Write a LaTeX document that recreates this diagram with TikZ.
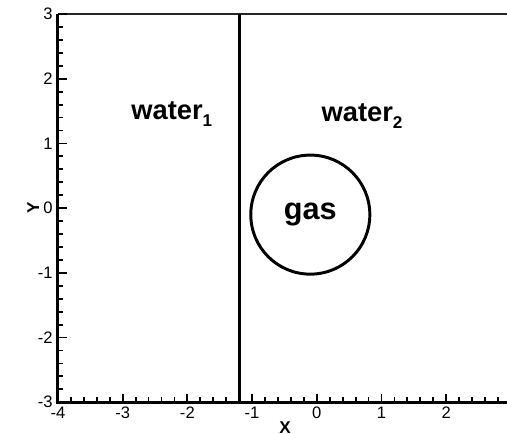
\documentclass[tikz,border=0pt]{standalone}
\usepackage{fontspec}
\setmainfont{Liberation Sans}
\usetikzlibrary{positioning}

\begin{document}
\begin{tikzpicture}[x=1cm, y=1cm]

% Define styles
\tikzstyle{axis} = [line width=1.3pt, black]
\tikzstyle{tick} = [line width=0.8pt, black]
\tikzstyle{ticklabel} = [inner sep=0pt, font=\fontsize{7.3}{8}\selectfont]
\tikzstyle{region} = [inner sep=0pt, font=\fontsize{12}{14}\selectfont\bfseries]

% Frame of the picture
\useasboundingbox (-4.896,-3.486) rectangle (2.94,3.217);

% Axes
\draw[axis] (-4,3) -- (-4,-3) -- (2.94,-3);
\draw[line width=0.9pt, black!85] (-4,3) -- (2.94,3);

% Ticks on X
\foreach \i in {-4,...,2} {
  \draw[tick] (\i,-3) -- ++(0,0.13);
  \foreach \j in {0.2,0.4,0.6,0.8} {
    \draw[tick] (\i+\j,-3) -- ++(0,0.075);
  }
  \node[ticklabel] (xt\i) at (\i,-3.155) {\i};
}

% Ticks on Y
\foreach \i in {-3,...,3} {
  \draw[tick] (-4,\i) -- ++(0.14,0);
  \node[ticklabel, anchor=east] (yt\i) at (-4.075,\i) {\i};
}
\foreach \i in {-3,...,2} {
  \foreach \j in {0.2,0.4,0.6,0.8} {
    \draw[tick] (-4,\i+\j) -- ++(0.075,0);
  }
}

% Axis titles
\node[inner sep=0pt, font=\fontsize{7.5}{8}\selectfont\bfseries] (xlabel) at (-0.49,-3.39) {X};
\node[inner sep=0pt, font=\fontsize{7.5}{8}\selectfont\bfseries, rotate=90] (ylabel) at (-4.38,0) {Y};

% Interface between the two waters
\coordinate (top) at (-1.19,3);
\coordinate (bottom) at (-1.19,-3);
\draw[line width=1.5pt] (bottom) -- (top);

% Regions
\node[region] (water1) at (-2.24,1.45) {water\raisebox{-3pt}{\fontsize{7.5}{8}\selectfont 1}};
\node[region] (water2) at (0.7,1.42) {water\raisebox{-3pt}{\fontsize{7.5}{8}\selectfont 2}};
\node[region, font=\fontsize{13.5}{15}\selectfont\bfseries, circle, draw, line width=1.3pt, minimum size=1.84cm] (gas) at (-0.1,-0.1) {gas};

\end{tikzpicture}
\end{document}
